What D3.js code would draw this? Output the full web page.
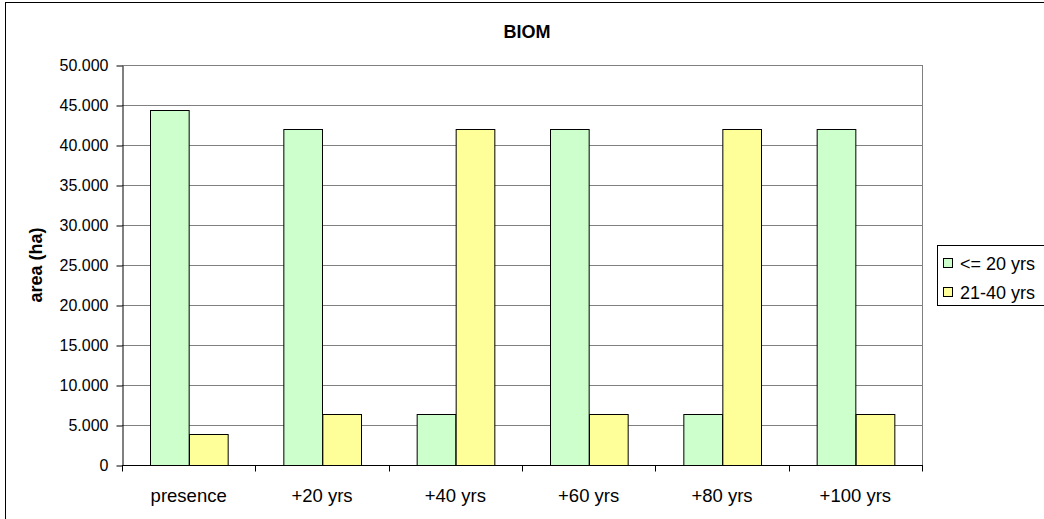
<!DOCTYPE html>
<html><head><meta charset="utf-8">
<script src="https://cdn.jsdelivr.net/npm/d3@7"></script>
<style>body{margin:0;background:#fff}svg{display:block;font-family:"Liberation Sans",Arial,sans-serif}</style>
</head><body>
<script>
const categories = ["presence","+20 yrs","+40 yrs","+60 yrs","+80 yrs","+100 yrs"];
const seriesNames = ["<= 20 yrs","21-40 yrs"];
const young = [44400, 41950, 6330, 41950, 6330, 41950];
const mid = [3880, 6330, 41950, 6330, 41950, 6330];
const seriesColors = ["#CCFFCC","#FFFF99"];
const yTicks = [0,5000,10000,15000,20000,25000,30000,35000,40000,45000,50000];

const W=1044,H=519;
const m={left:122,right:922,top:65,bottom:465};
const svg=d3.select("body").append("svg").attr("width",W).attr("height",H);

// outer frame
svg.append("rect").attr("x",5.5).attr("y",2.5).attr("width",1200).attr("height",600)
  .attr("fill","#fff").attr("stroke","#000").attr("stroke-width",1);

const x=d3.scaleBand().domain(categories).range([m.left,m.right]).paddingInner(0.42).paddingOuter(0.21);
const x1=d3.scaleBand().domain(seriesNames).range([0,x.bandwidth()]);
const y=d3.scaleLinear().domain([0,50000]).range([m.bottom,m.top]);

// gridlines
svg.append("g").selectAll("line").data(yTicks.filter(d=>d>0)).join("line")
  .attr("x1",m.left).attr("x2",m.right)
  .attr("y1",d=>Math.round(y(d))+0.5).attr("y2",d=>Math.round(y(d))+0.5)
  .attr("stroke","#808080");
svg.append("line").attr("x1",m.right+0.5).attr("x2",m.right+0.5).attr("y1",m.top).attr("y2",m.bottom).attr("stroke","#808080");

// bars
const data=categories.map((c,i)=>({c,vals:[young[i],mid[i]]}));
const g=svg.append("g").selectAll("g").data(data).join("g").attr("transform",d=>`translate(${x(d.c)},0)`);
g.selectAll("rect").data(d=>d.vals.map((v,j)=>({v,s:seriesNames[j],j}))).join("rect")
  .attr("x",d=>Math.round(x1(d.s))+0.5).attr("width",x1.bandwidth())
  .attr("y",d=>Math.round(y(d.v))+0.5).attr("height",d=>m.bottom-Math.round(y(d.v)))
  .attr("fill",d=>seriesColors[d.j]).attr("stroke","#000").attr("stroke-width",1);

// y axis
const yAxis=d3.axisLeft(y).tickValues(yTicks).tickSize(6).tickSizeOuter(0)
  .tickFormat(d=>d===0?"0":(d/1000).toFixed(3));
const ya=svg.append("g").attr("transform",`translate(${m.left+0.5},0.5)`).call(yAxis)
  .attr("font-size",16).attr("font-family","Liberation Sans, Arial, sans-serif");
ya.selectAll("text").attr("fill","#000").attr("x",-14);
ya.selectAll("line,path").attr("stroke","#000");

// x axis
const xa=svg.append("g").attr("transform",`translate(0,${m.bottom+0.5})`);
xa.append("line").attr("x1",m.left).attr("x2",m.right+1).attr("stroke","#000");
const bounds=d3.range(categories.length+1).map(i=>m.left+i*(m.right-m.left)/categories.length);
xa.selectAll("line.t").data(bounds).join("line").attr("class","t")
  .attr("x1",d=>Math.round(d)+0.5).attr("x2",d=>Math.round(d)+0.5).attr("y1",0).attr("y2",6).attr("stroke","#000");
xa.selectAll("text").data(categories).join("text")
  .attr("x",d=>x(d)+x.bandwidth()/2).attr("y",36).attr("text-anchor","middle")
  .attr("font-size",18.5).text(d=>d);

// title
svg.append("text").attr("x",527).attr("y",38).attr("text-anchor","middle")
  .attr("font-size",18).attr("font-weight","bold").text("BIOM");
// y label
svg.append("text").attr("transform",`translate(42,${(m.top+m.bottom)/2}) rotate(-90)`)
  .attr("text-anchor","middle").attr("font-size",18).attr("font-weight","bold").text("area (ha)");

// legend
const lg=svg.append("g");
lg.append("rect").attr("x",937.5).attr("y",245.5).attr("width",130).attr("height",60)
  .attr("fill","#fff").attr("stroke","#000");
seriesNames.forEach((s,i)=>{
  const cy=263+i*29;
  lg.append("rect").attr("x",943.5).attr("y",cy-4.5).attr("width",9).attr("height",9)
    .attr("fill",seriesColors[i]).attr("stroke","#000");
  lg.append("text").attr("x",960).attr("y",cy+6.5).attr("font-size",18).text(s);
});
</script>
</body></html>
